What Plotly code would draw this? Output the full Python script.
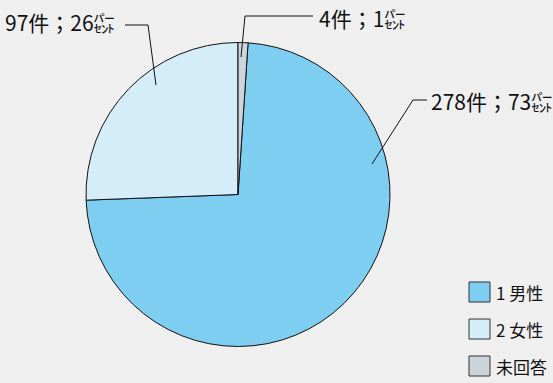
import plotly.graph_objects as go

labels = ["1 男性", "2 女性", "未回答"]
counts = [278, 97, 4]
percents = [73, 26, 1]
colors = ["#7ECEF2", "#D5ECF9", "#CCD5DC"]

W, H = 553, 383
BG = "#EFEFEF"
FONT = "Noto Sans CJK JP"

def px(x):
    return x / W

def py(y):
    return 1 - y / H

total = sum(counts)
rotation = counts[-1] / total * 360  # last slice sits just right of 12 o'clock

cx, cy, r = 238, 194.5, 152
fig = go.Figure(go.Pie(
    labels=labels, values=counts, sort=False, direction="clockwise",
    rotation=rotation, textinfo="none", hoverinfo="label+value+percent",
    marker=dict(colors=colors, line=dict(color="#111111", width=1)),
    domain=dict(x=[px(cx - r), px(cx + r)], y=[py(cy + r), py(cy - r)]),
    showlegend=False,
))

def lab(i):
    return f"{counts[i]}件；{percents[i]}㌫"

# data label annotations with elbow leader lines (pixel layout positions)
label_layout = [
    (0, 429, 101, "left", [(427, 100), (413, 100), (372, 164)]),
    (1, 117, 22, "right", [(125, 25), (148, 25), (156, 85)]),
    (2, 317, 18, "left", [(313, 16), (245, 16), (241, 57)]),
]
for i, tx, ty, anc, pts in label_layout:
    fig.add_annotation(x=px(tx), y=py(ty), xref="paper", yref="paper",
                       text=lab(i), showarrow=False, xanchor=anc, yanchor="middle",
                       font=dict(family=FONT, size=21, color="#111111"))
    path = "M " + " L ".join(f"{px(x)},{py(y)}" for x, y in pts)
    fig.add_shape(type="path", path=path, xref="paper", yref="paper",
                  line=dict(color="#111111", width=1))

# manual legend
rows = [292, 329, 366]
for i, yc in enumerate(rows):
    fig.add_shape(type="rect", xref="paper", yref="paper",
                  x0=px(469), x1=px(490), y0=py(yc + 10), y1=py(yc - 10),
                  fillcolor=colors[i], line=dict(color="#333333", width=1))
    fig.add_annotation(x=px(494), y=py(yc), xref="paper", yref="paper",
                       text=labels[i], showarrow=False, xanchor="left", yanchor="middle",
                       font=dict(family=FONT, size=17, color="#111111"))

fig.update_layout(width=W, height=H, margin=dict(l=0, r=0, t=0, b=0),
                  paper_bgcolor=BG, plot_bgcolor=BG)
fig.write_html("out.html")
